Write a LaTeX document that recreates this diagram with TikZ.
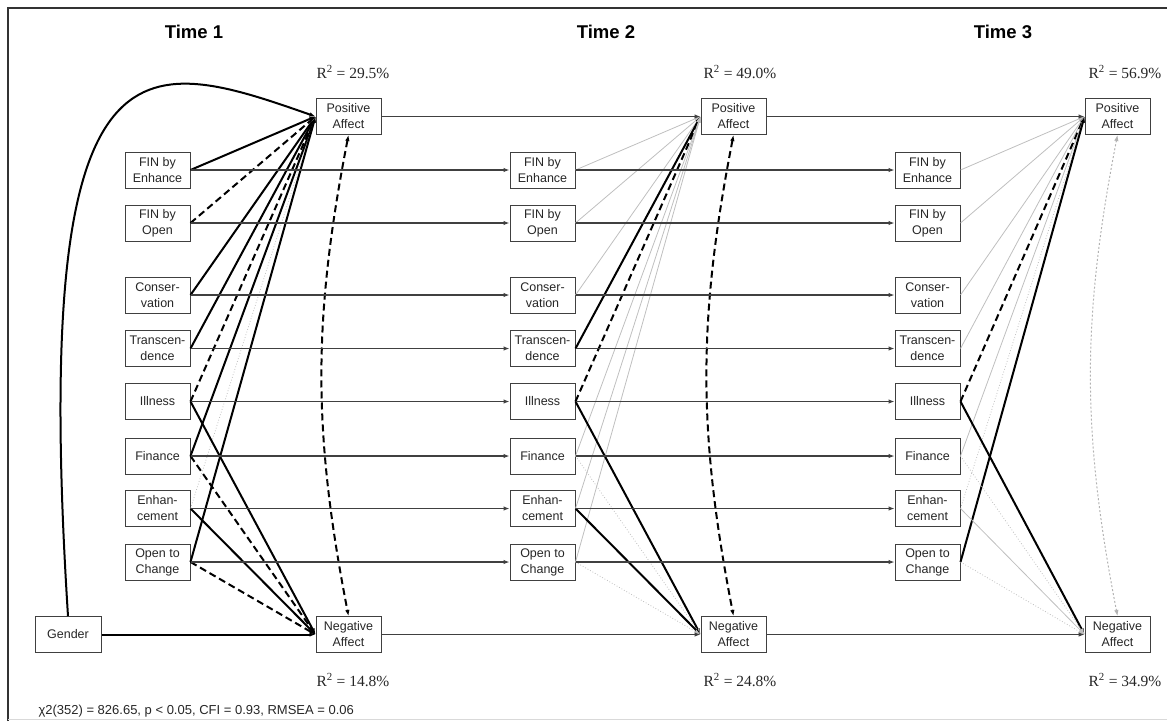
\documentclass[tikz,border=0pt]{standalone}
\usepackage{fontspec}
\setmainfont{Liberation Sans}
\newfontfamily\rsqfont{Liberation Serif}
\usetikzlibrary{arrows.meta}

\begin{document}
\begin{tikzpicture}[x=1pt, y=-1pt,
  font=\fontsize{12.5}{16}\selectfont,
  box/.style={draw=black!75, line width=1pt, minimum width=65pt,
              minimum height=36pt, inner sep=1pt, align=center, text=black!85},
  hdr/.style={font=\fontsize{18.5}{22}\selectfont\bfseries},
  rsq/.style={font=\rsqfont\fontsize{15.5}{18}\selectfont, text=black!85},
  tip/.style={-{Latex[length=6pt, width=4.5pt]}},
  carry/.style={tip, draw=black!75, line width=1.1pt},
  sig/.style={tip, line width=2pt},
  signeg/.style={sig, dash pattern=on 7pt off 4pt},
  ns/.style={tip, draw=black!25, line width=0.8pt},
  nsdot/.style={ns, dotted},
  corr/.style={{Latex[length=6pt, width=4.5pt]}-{Latex[length=6pt, width=4.5pt]},
               bend right=11, line width=2pt, dash pattern=on 7pt off 4pt}
]
\useasboundingbox (0,0) rectangle (1167,721);

%% frame
\draw[line width=1.5pt, black!80] (8,721) -- (8,8) -- (1167,8);
\draw[black!15] (8,719) -- (1167,719);

%% headers
\node[hdr] (h1) at (194,32)  {Time 1};
\node[hdr] (h2) at (606,32)  {Time 2};
\node[hdr] (h3) at (1003,32) {Time 3};

%% Time 1
\node[box] (fe1)    at (157.5,170)   {FIN by\\Enhance};
\node[box] (fo1)    at (157.5,223)   {FIN by\\Open};
\node[box] (cons1)  at (157.5,295)   {Conser-\\vation};
\node[box] (trans1) at (157.5,348.5) {Transcen-\\dence};
\node[box] (ill1)   at (157.5,401.5) {Illness};
\node[box] (fin1)   at (157.5,456)   {Finance};
\node[box] (enh1)   at (157.5,508.5) {Enhan-\\cement};
\node[box] (open1)  at (157.5,562)   {Open to\\Change};
\node[box, minimum width=66pt] (gender) at (68,634.5) {Gender};
\node[box] (pa1) at (348.5,116.5) {Positive\\Affect};
\node[box] (na1) at (348.5,634.5) {Negative\\Affect};
\node[rsq] (rpa1) at (353,72)  {R\textsuperscript{2} = 29.5\%};
\node[rsq] (rna1) at (353,680) {R\textsuperscript{2} = 14.8\%};

\draw[sig] (gender.north) .. controls (30,20) and (140,55) .. (pa1.west);
\draw[sig] (gender) -- (na1);
\draw[sig]    (fe1.east)    -- (pa1.west);
\draw[signeg] (fo1.east)    -- (pa1.west);
\draw[sig]    (cons1.east)  -- (pa1.west);
\draw[sig]    (trans1.east) -- (pa1.west);
\draw[signeg] (ill1.east)   -- (pa1.west);
\draw[sig]    (fin1.east)   -- (pa1.west);
\draw[nsdot]  (enh1.east)   -- (pa1.west);
\draw[sig]    (open1.east)  -- (pa1.west);
\draw[sig]    (ill1.east)   -- (na1.west);
\draw[signeg] (fin1.east)   -- (na1.west);
\draw[sig]    (enh1.east)   -- (na1.west);
\draw[signeg] (open1.east)  -- (na1.west);
\draw[corr] (pa1.south) to (na1.north);

%% Time 2
\node[box] (fe2)    at (542.5,170)   {FIN by\\Enhance};
\node[box] (fo2)    at (542.5,223)   {FIN by\\Open};
\node[box] (cons2)  at (542.5,295)   {Conser-\\vation};
\node[box] (trans2) at (542.5,348.5) {Transcen-\\dence};
\node[box] (ill2)   at (542.5,401.5) {Illness};
\node[box] (fin2)   at (542.5,456)   {Finance};
\node[box] (enh2)   at (542.5,508.5) {Enhan-\\cement};
\node[box] (open2)  at (542.5,562)   {Open to\\Change};
\node[box] (pa2) at (733.5,116.5) {Positive\\Affect};
\node[box] (na2) at (733.5,634.5) {Negative\\Affect};
\node[rsq] (rpa2) at (740,72)  {R\textsuperscript{2} = 49.0\%};
\node[rsq] (rna2) at (740,680) {R\textsuperscript{2} = 24.8\%};

\draw[ns]     (fe2.east)    -- (pa2.west);
\draw[ns]     (fo2.east)    -- (pa2.west);
\draw[ns]     (cons2.east)  -- (pa2.west);
\draw[sig]    (trans2.east) -- (pa2.west);
\draw[signeg] (ill2.east)   -- (pa2.west);
\draw[ns]     (fin2.east)   -- (pa2.west);
\draw[ns]     (enh2.east)   -- (pa2.west);
\draw[ns]     (open2.east)  -- (pa2.west);
\draw[sig]    (ill2.east)   -- (na2.west);
\draw[nsdot]  (fin2.east)   -- (na2.west);
\draw[sig]    (enh2.east)   -- (na2.west);
\draw[nsdot]  (open2.east)  -- (na2.west);
\draw[corr] (pa2.south) to (na2.north);

%% Time 3
\node[box] (fe3)    at (927.5,170)   {FIN by\\Enhance};
\node[box] (fo3)    at (927.5,223)   {FIN by\\Open};
\node[box] (cons3)  at (927.5,295)   {Conser-\\vation};
\node[box] (trans3) at (927.5,348.5) {Transcen-\\dence};
\node[box] (ill3)   at (927.5,401.5) {Illness};
\node[box] (fin3)   at (927.5,456)   {Finance};
\node[box] (enh3)   at (927.5,508.5) {Enhan-\\cement};
\node[box] (open3)  at (927.5,562)   {Open to\\Change};
\node[box] (pa3) at (1117.5,116.5) {Positive\\Affect};
\node[box] (na3) at (1117.5,634.5) {Negative\\Affect};
\node[rsq] (rpa3) at (1125,72)  {R\textsuperscript{2} = 56.9\%};
\node[rsq] (rna3) at (1125,680) {R\textsuperscript{2} = 34.9\%};

\draw[ns]     (fe3.east)    -- (pa3.west);
\draw[ns]     (fo3.east)    -- (pa3.west);
\draw[ns]     (cons3.east)  -- (pa3.west);
\draw[ns]     (trans3.east) -- (pa3.west);
\draw[signeg] (ill3.east)   -- (pa3.west);
\draw[ns]     (fin3.east)   -- (pa3.west);
\draw[nsdot]  (enh3.east)   -- (pa3.west);
\draw[sig]    (open3.east)  -- (pa3.west);
\draw[sig]    (ill3.east)   -- (na3.west);
\draw[nsdot]  (fin3.east)   -- (na3.west);
\draw[ns]     (enh3.east)   -- (na3.west);
\draw[nsdot]  (open3.east)  -- (na3.west);
\draw[corr, draw=black!30, solid, dotted, line width=1pt] (pa3.south) to (na3.north);

%% stability paths
\draw[carry] (pa1)    -- (pa2);
\draw[carry] (fe1)    -- (fe2);
\draw[carry] (fo1)    -- (fo2);
\draw[carry] (cons1)  -- (cons2);
\draw[carry] (trans1) -- (trans2);
\draw[carry] (ill1)   -- (ill2);
\draw[carry] (fin1)   -- (fin2);
\draw[carry] (enh1)   -- (enh2);
\draw[carry] (open1)  -- (open2);
\draw[carry] (na1)    -- (na2);
\draw[carry] (pa2)    -- (pa3);
\draw[carry] (fe2)    -- (fe3);
\draw[carry] (fo2)    -- (fo3);
\draw[carry] (cons2)  -- (cons3);
\draw[carry] (trans2) -- (trans3);
\draw[carry] (ill2)   -- (ill3);
\draw[carry] (fin2)   -- (fin3);
\draw[carry] (enh2)   -- (enh3);
\draw[carry] (open2)  -- (open3);
\draw[carry] (na2)    -- (na3);

%% fit indices
\node[anchor=west, font=\fontsize{13}{14}\selectfont, text=black!85] (fitidx) at (35,711)
  {χ2(352) = 826.65, p < 0.05, CFI = 0.93, RMSEA = 0.06};

\end{tikzpicture}
\end{document}
